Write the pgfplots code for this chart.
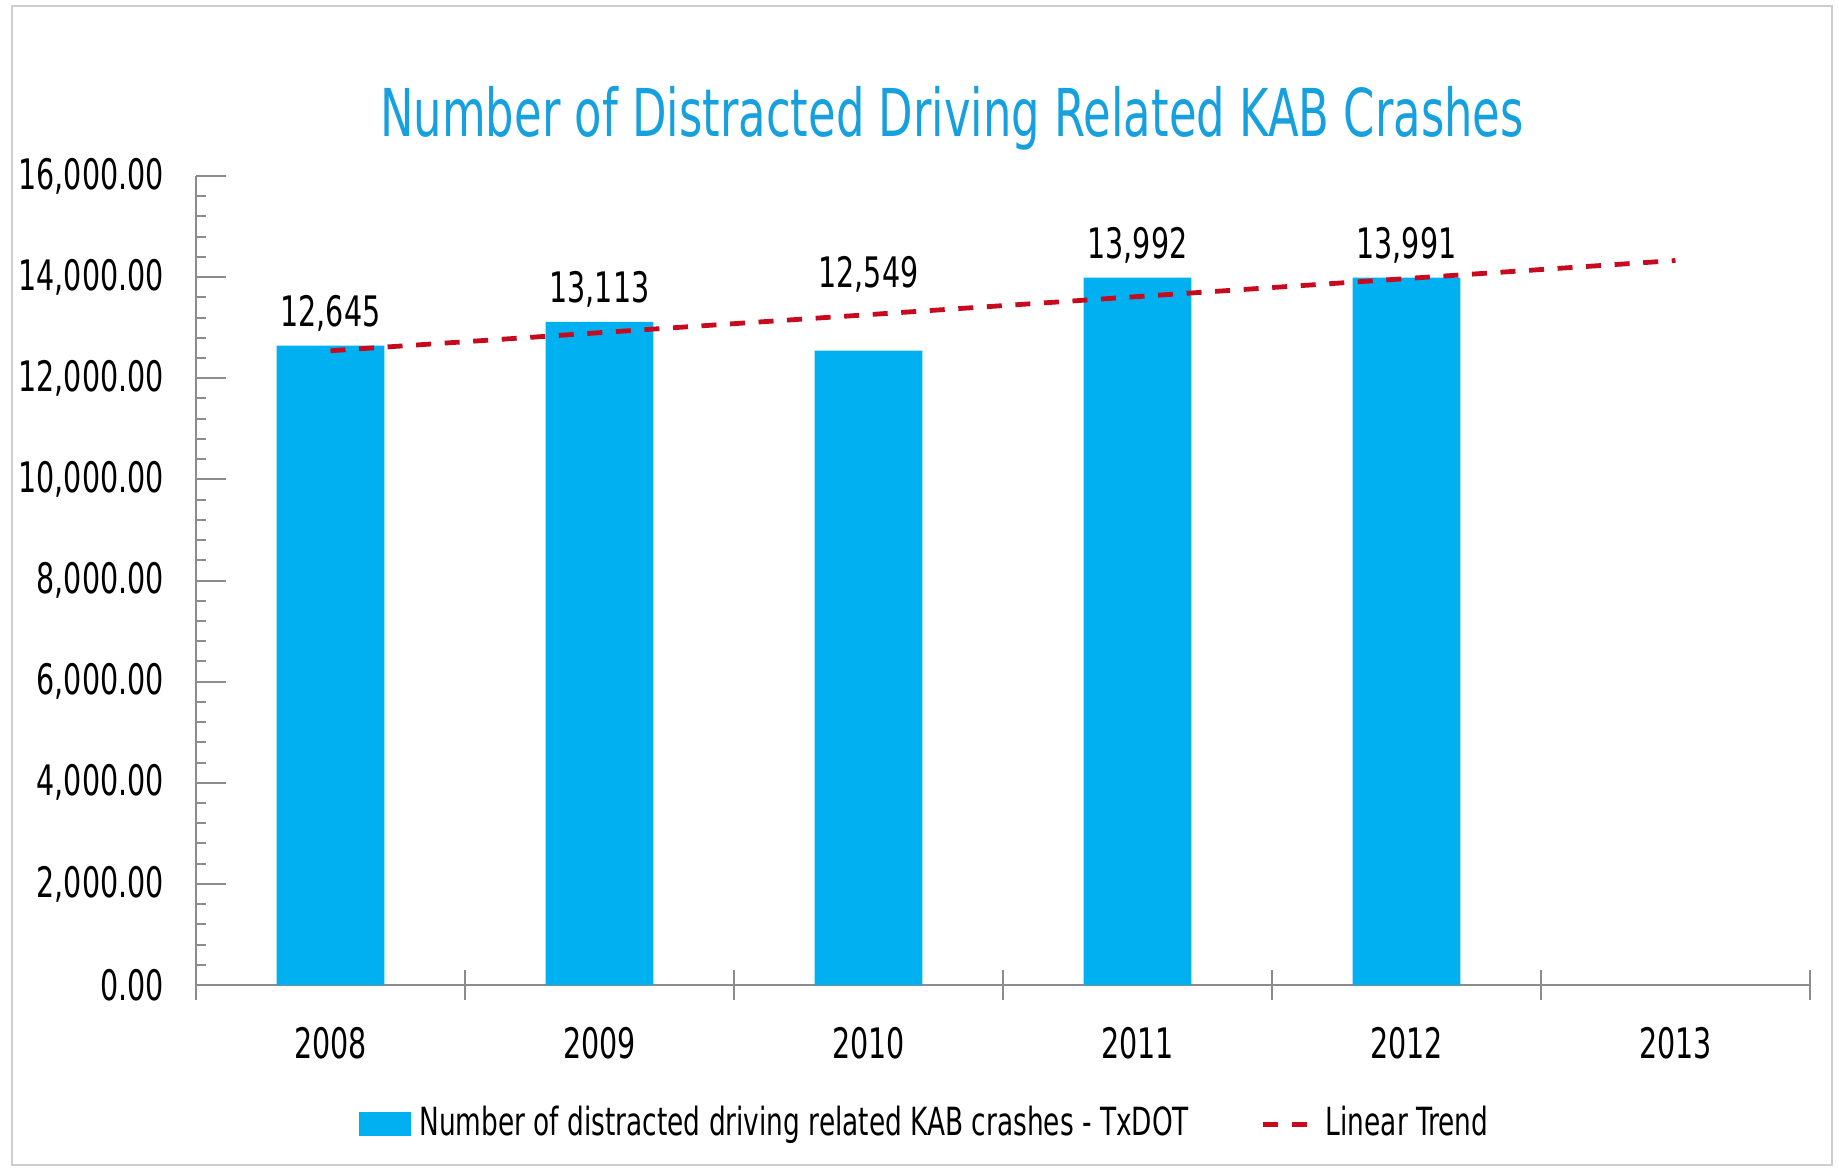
\documentclass[border=0pt]{standalone}
\usepackage{fontspec}
\setmainfont{DejaVu Sans}[FakeStretch=0.68]
\usepackage{pgfplots}
\usepackage{pgfplotstable}
\pgfplotsset{compat=1.18}
\definecolor{barblue}{RGB}{0,176,240}
\definecolor{titleblue}{RGB}{22,160,222}
\definecolor{trendred}{RGB}{200,10,30}
\definecolor{axgray}{RGB}{140,140,140}
\definecolor{framegray}{RGB}{205,205,205}
\pgfplotstableread{
x y dy
0 12645 0
1 13113 0
2 12549 11
3 13992 0
4 13991 0
}\crashes
\begin{document}
\begin{tikzpicture}
\useasboundingbox (0,0) rectangle (459.75pt,-291.75pt);
\draw[framegray, line width=0.6pt] (3pt,-1.5pt) rectangle (458pt,-291.25pt);
\node[text=titleblue, font=\fontsize{16.5}{19}\selectfont] at (238pt,-29.5pt) {Number of Distracted Driving Related KAB Crashes};
\begin{axis}[
  at={(49pt,-246.25pt)}, anchor=south west,
  scale only axis, width=403.5pt, height=202.25pt,
  xmin=-0.5, xmax=5.5, ymin=0, ymax=16000,
  axis lines*=left,
  axis line style={axgray, line width=0.6pt},
  xtick={-0.5,0.5,...,5.5},
  x tick label as interval,
  xticklabels={2008,2009,2010,2011,2012,2013},
  ytick={0,2000,...,16000},
  scaled y ticks=false,
  minor y tick num=4,
  tick align=inside,
  major tick length=7.5pt,
  minor tick length=2.5pt,
  xtick style={axgray, line width=0.5pt, yshift=-3.75pt},
  ytick style={axgray, line width=0.5pt},
  /pgf/number format/assume math mode=true,
  yticklabel style={xshift=-4.5pt, /pgf/number format/fixed, /pgf/number format/fixed zerofill, /pgf/number format/precision=2, /pgf/number format/1000 sep={,}},
  xticklabel style={yshift=-7pt},
  tick label style={font=\fontsize{10.5}{12}\selectfont},
  legend style={draw=none, at={(0.4535,-0.172)}, anchor=center, font=\fontsize{9.7}{11}\selectfont, /tikz/every even column/.append style={column sep=16pt}},
  legend columns=2,
  clip=false,
]
\addplot[ybar, bar width=0.4, bar shift=0pt, fill=barblue, draw=none,
  visualization depends on={\thisrow{dy} \as \dy},
  nodes near coords,
  point meta=y,
  every node near coord/.append style={font=\fontsize{10.5}{12}\selectfont, yshift=\dy pt, /pgf/number format/fixed, /pgf/number format/precision=0, /pgf/number format/1000 sep={,}, /pgf/number format/assume math mode=true},
  legend image code/.code={\fill[barblue] (0pt,-3pt) rectangle (13pt,3pt);}
] table[x=x, y=y] {\crashes};
\addlegendentry{Number of distracted driving related KAB crashes - TxDOT}
\addplot[no marks, sharp plot, trendred, line width=1.2pt, dash pattern=on 3.75pt off 3.4pt,
  legend image code/.code={\draw[trendred, line width=1.2pt, dash pattern=on 3.75pt off 3.4pt] (0pt,0pt) -- (13pt,0pt);}
] coordinates {(0,12544) (5,14329)};
\addlegendentry{Linear Trend}
\end{axis}
\end{tikzpicture}
\end{document}
